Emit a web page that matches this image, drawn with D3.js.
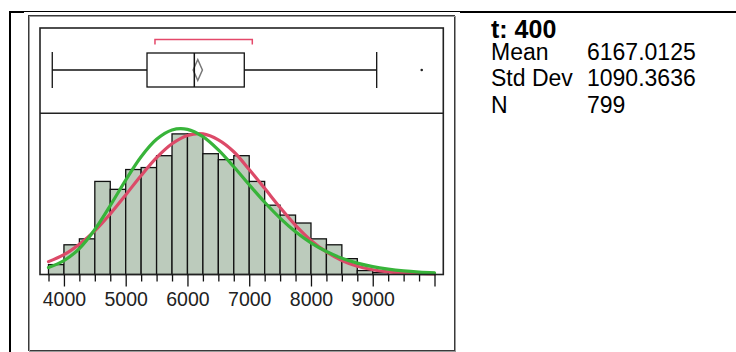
<!DOCTYPE html>
<html>
<head>
<meta charset="utf-8">
<script src="https://cdn.jsdelivr.net/npm/d3@7"></script>
<style>
  html, body { margin: 0; padding: 0; background: #fff; }
  svg { display: block; font-family: "Liberation Sans", Arial, sans-serif; }
</style>
</head>
<body>
<script>
// histogram: lower edge of each bin and its count
const binStarts = [3750, 4000, 4250, 4500, 4750, 5000, 5250, 5500, 5750, 6000, 6250, 6500,
  6750, 7000, 7250, 7500, 7750, 8000, 8250, 8500, 8750, 9000, 9250, 9500, 9750];
const binCounts = [5, 15, 18, 47, 43, 53, 54, 60, 71, 71, 61, 58,
  60, 47, 35, 30, 26, 18, 15, 8, 2, 1, 0, 0, 1];
const binWidth = 250;

// fitted curves (in counts per bin)
const fitX = [3750, 4000, 4250, 4500, 4750, 5000, 5250, 5500, 5750, 6000, 6250, 6500, 6750,
  7000, 7250, 7500, 7750, 8000, 8250, 8500, 8750, 9000, 9250, 9500, 9750, 10000];
const normalFit = [6.5, 10, 15.3, 22, 30.6, 40.2, 50, 59, 66, 70.2, 71, 68, 62,
  53, 43.5, 33.8, 24.8, 17.2, 11.4, 7.1, 4.2, 2.4, 1.3, 0.8, 0.5, 0.3];
const lognormalFit = [3.5, 7, 13.1, 22.7, 34.8, 47.7, 59.5, 68.3, 73, 73.3, 69.6, 62.9, 54.4,
  45.3, 36.5, 28.5, 21.6, 16, 11.6, 8.2, 5.75, 3.95, 2.7, 1.8, 1.2, 0.8];

// outlier box plot: whisker low, q1, median, q3, whisker high
const quantiles = [3811, 5345, 6111, 6920, 9064];
const outliers = [9793];
const meanDiamond = [6092, 6167.0125, 6242];
const shortestHalf = [5474, 7050];

// axis
const minorTicks = [3750, 4250, 4500, 4750, 5250, 5500, 5750, 6250, 6500, 6750, 7250, 7500,
  7750, 8250, 8500, 8750, 9250, 9500, 9750];
const majorTicks = [4000, 5000, 6000, 7000, 8000, 9000, 10000];
const tickLabels = ["4000", "5000", "6000", "7000", "8000", "9000", ""];

// summary table
const title = "t: 400";
const statNames = ["Mean", "Std Dev", "N"];
const statValues = ["6167.0125", "1090.3636", "799"];

const W = 736, H = 352;
const frame = {left: 40, right: 443.3, top: 28, mid: 113.3, bottom: 274.5};

const svg = d3.select("body").append("svg")
  .attr("width", W)
  .attr("height", H);

const x = d3.scaleLinear().domain([3750, 10000]).range([48.5, 434.5]);
const y = d3.scaleLinear().domain([0, 81.4]).range([frame.bottom, frame.mid]);

/**
* page borders -> the report cell lines and the double grey outline
*/
svg.append("line").attr("x1", 9).attr("x2", W).attr("y1", 11.5).attr("y2", 11.5)
  .attr("stroke", "#000").attr("stroke-width", 1);
svg.append("line").attr("x1", 9).attr("x2", 24).attr("y1", 12).attr("y2", 12)
  .attr("stroke", "#000").attr("stroke-width", 2);
svg.append("line").attr("x1", 460).attr("x2", W).attr("y1", 12).attr("y2", 12)
  .attr("stroke", "#000").attr("stroke-width", 2);
svg.append("line").attr("x1", 10).attr("x2", 10).attr("y1", 11).attr("y2", H)
  .attr("stroke", "#000").attr("stroke-width", 2);

svg.append("rect")
  .attr("x", 28.5).attr("y", 15.5).attr("width", 426).attr("height", 335)
  .attr("fill", "none").attr("stroke", "#3a3a3a");
svg.append("rect")
  .attr("x", 29.5).attr("y", 16.5).attr("width", 426).attr("height", 335)
  .attr("fill", "none").attr("stroke", "#9a9a9a");

/**
* histogram
*/
const hist = svg.append("g");

hist.selectAll("rect.bar")
  .data(binStarts.map((s, i) => ({start: s, count: binCounts[i]})))
  .enter().append("rect")
  .attr("class", "bar")
  .attr("x", d => x(d.start))
  .attr("width", d => x(d.start + binWidth) - x(d.start))
  .attr("y", d => y(d.count))
  .attr("height", d => y(0) - y(d.count))
  .attr("fill", "#bccbbc")
  .attr("stroke", "#111")
  .attr("stroke-width", 1.3);

const curve = d3.line()
  .x((d, i) => x(fitX[i]))
  .y(d => y(d))
  .curve(d3.curveCatmullRom);

hist.append("path")
  .attr("d", curve(normalFit))
  .attr("fill", "none")
  .attr("stroke", "#dc4a68")
  .attr("stroke-width", 3.2)
  .attr("stroke-linecap", "round");

hist.append("path")
  .attr("d", curve(lognormalFit))
  .attr("fill", "none")
  .attr("stroke", "#38b43a")
  .attr("stroke-width", 3.2)
  .attr("stroke-linecap", "round");

/**
* box plot
*/
const box = svg.append("g");
const cy = 70, boxH = 34, capH = 36;

box.append("line")
  .attr("x1", x(quantiles[0])).attr("x2", x(quantiles[1]))
  .attr("y1", cy).attr("y2", cy)
  .attr("stroke", "#111").attr("stroke-width", 1.3);
box.append("line")
  .attr("x1", x(quantiles[3])).attr("x2", x(quantiles[4]))
  .attr("y1", cy).attr("y2", cy)
  .attr("stroke", "#111").attr("stroke-width", 1.3);

box.selectAll("line.cap")
  .data([quantiles[0], quantiles[4]])
  .enter().append("line")
  .attr("class", "cap")
  .attr("x1", d => x(d)).attr("x2", d => x(d))
  .attr("y1", cy - capH / 2).attr("y2", cy + capH / 2)
  .attr("stroke", "#111").attr("stroke-width", 1.3);

box.append("rect")
  .attr("x", x(quantiles[1]))
  .attr("y", cy - boxH / 2)
  .attr("width", x(quantiles[3]) - x(quantiles[1]))
  .attr("height", boxH)
  .attr("fill", "none")
  .attr("stroke", "#111").attr("stroke-width", 1.3);

box.append("path")
  .attr("d", "M" + x(meanDiamond[0]) + "," + cy
    + "L" + x(meanDiamond[1]) + "," + (cy - 10.5)
    + "L" + x(meanDiamond[2]) + "," + cy
    + "L" + x(meanDiamond[1]) + "," + (cy + 10.5) + "Z")
  .attr("fill", "none")
  .attr("stroke", "#777").attr("stroke-width", 1.5);

box.append("line")
  .attr("x1", x(quantiles[2])).attr("x2", x(quantiles[2]))
  .attr("y1", cy - boxH / 2).attr("y2", cy + boxH / 2)
  .attr("stroke", "#111").attr("stroke-width", 1.5);

box.selectAll("circle.out")
  .data(outliers)
  .enter().append("circle")
  .attr("class", "out")
  .attr("cx", d => x(d)).attr("cy", cy)
  .attr("r", 1.3)
  .attr("fill", "#222");

box.append("path")
  .attr("d", "M" + x(shortestHalf[0]) + ",44.5V39.5H" + x(shortestHalf[1]) + "V44.5")
  .attr("fill", "none")
  .attr("stroke", "#e4486a").attr("stroke-width", 1.5);

/**
* plot frame + separator
*/
svg.append("rect")
  .attr("x", frame.left).attr("y", frame.top)
  .attr("width", frame.right - frame.left).attr("height", frame.bottom - frame.top)
  .attr("fill", "none").attr("stroke", "#222").attr("stroke-width", 1.6);
svg.append("line")
  .attr("x1", frame.left).attr("x2", frame.right)
  .attr("y1", frame.mid).attr("y2", frame.mid)
  .attr("stroke", "#222").attr("stroke-width", 1.6);

/**
* x axis
*/
const minorAxis = d3.axisBottom(x).tickValues(minorTicks).tickSize(7).tickFormat("");
const majorAxis = d3.axisBottom(x).tickValues(majorTicks).tickSize(12).tickPadding(6)
  .tickFormat((d, i) => tickLabels[i]);

[minorAxis, majorAxis].forEach(ax => {
  const g = svg.append("g")
    .attr("transform", "translate(0," + frame.bottom + ")")
    .call(ax);
  g.select(".domain").remove();
  g.selectAll("line").attr("stroke", "#111").attr("stroke-width", 1.3);
  g.selectAll("text")
    .attr("fill", "#222")
    .style("font-size", "19.5px")
    .style("font-family", "'Liberation Sans', Arial, sans-serif");
});

/**
* summary statistics
*/
svg.append("text")
  .attr("x", 491).attr("y", 38)
  .attr("font-weight", "bold")
  .attr("font-size", 25)
  .text(title);

const rows = svg.selectAll("g.stat")
  .data(statNames)
  .enter().append("g")
  .attr("class", "stat")
  .attr("transform", (d, i) => "translate(0," + (59.5 + i * 26.8) + ")");

rows.append("text")
  .attr("x", 491)
  .attr("font-size", 23)
  .text(d => d);
rows.append("text")
  .attr("x", 587)
  .attr("font-size", 23)
  .text((d, i) => statValues[i]);
</script>
</body>
</html>
